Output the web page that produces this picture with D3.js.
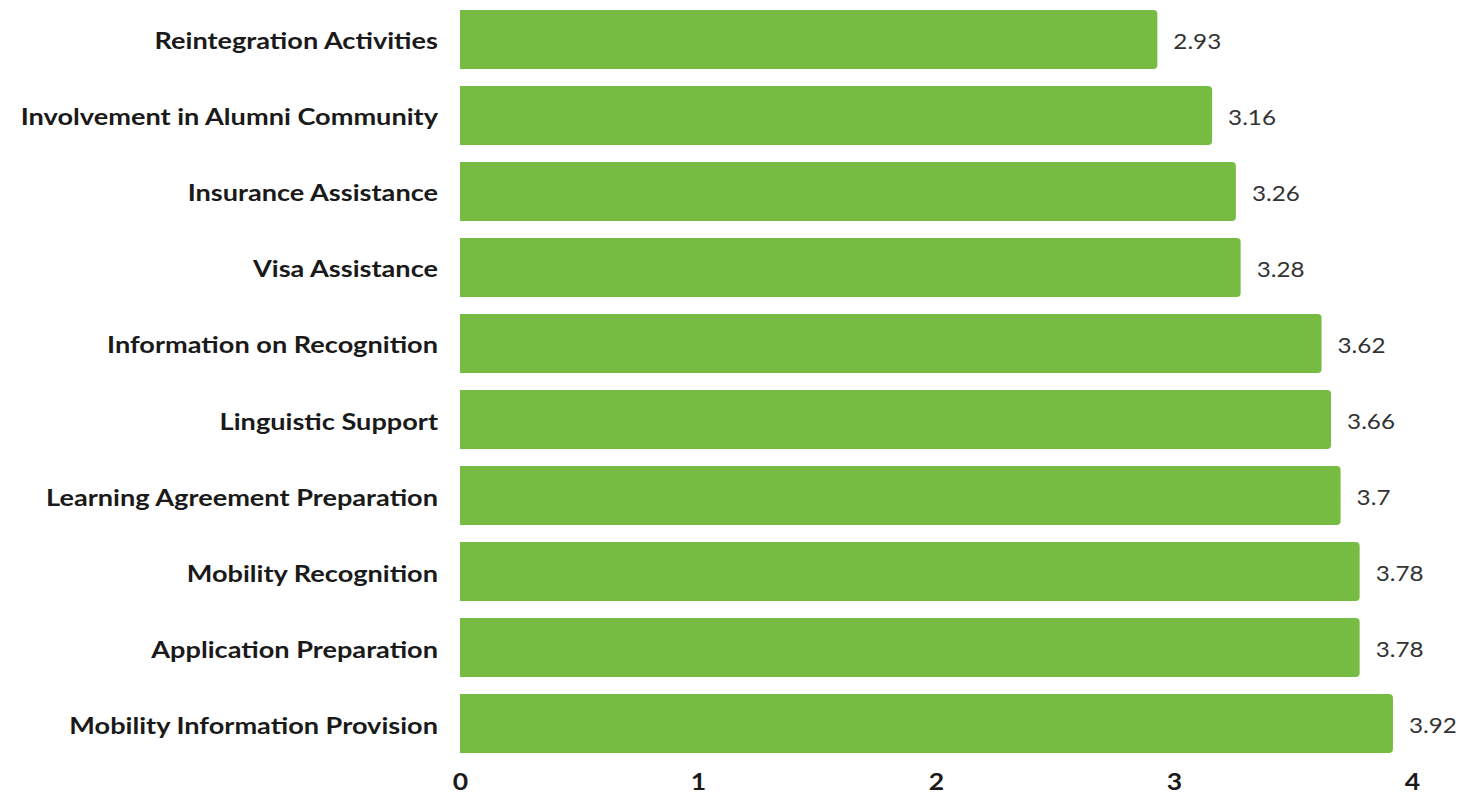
<!DOCTYPE html>
<html><head><meta charset="utf-8">
<script src="https://cdn.jsdelivr.net/npm/d3@7"></script>
<style>body{margin:0;background:#fff;}svg{display:block;}</style>
</head><body>
<svg id="c" width="1463" height="800"></svg>
<script>
const categories = ["Reintegration Activities","Involvement in Alumni Community","Insurance Assistance","Visa Assistance","Information on Recognition","Linguistic Support","Learning Agreement Preparation","Mobility Recognition","Application Preparation","Mobility Information Provision"];
const values = [2.93,3.16,3.26,3.28,3.62,3.66,3.7,3.78,3.78,3.92];
const valueLabels = ["2.93","3.16","3.26","3.28","3.62","3.66","3.7","3.78","3.78","3.92"];
const tickValues = [0,1,2,3,4];

const svg = d3.select("#c");
const x = d3.scaleLinear().domain([0,4]).range([460,1412]);
const y = d3.scaleBand().domain(categories).range([1.6,761.4]).paddingInner(0.224).paddingOuter(0.11);
const r = 4;
const bh = y.bandwidth();
const sx = 1.155;

svg.append("g").selectAll("path").data(categories).join("path")
  .attr("fill","#76bc43")
  .attr("d",(c,i)=>{
    const x0=x(0), x1=x(values[i]), y0=y(c), y1=y0+bh;
    return `M${x0},${y0}H${x1-r}Q${x1},${y0} ${x1},${y0+r}V${y1-r}Q${x1},${y1} ${x1-r},${y1}H${x0}Z`;
  });

svg.append("g").selectAll("text").data(categories).join("text")
  .attr("transform",c=>`translate(438,${y(c)+bh/2+10}) scale(${sx},1)`)
  .attr("text-anchor","end")
  .attr("font-family","Lato").attr("font-weight","bold").attr("font-size",23.5)
  .attr("fill","#1a1a1a").text(c=>c);

svg.append("g").selectAll("text").data(categories).join("text")
  .attr("transform",(c,i)=>`translate(${x(values[i])+16},${y(c)+bh/2+9.5}) scale(${sx},1)`)
  .attr("font-family","Lato").attr("font-size",21)
  .attr("fill","#333").text((c,i)=>valueLabels[i]);

const ax = d3.axisBottom(x).tickValues(tickValues).tickFormat(d3.format("d")).tickSize(0).tickPadding(0);
const g = svg.append("g").attr("transform","translate(0,790)").call(ax);
g.select(".domain").remove();
g.selectAll("text").attr("y",0).attr("dy",null).attr("transform",`scale(${sx},1)`)
  .attr("font-family","Lato").attr("font-weight","bold").attr("font-size",23).attr("fill","#1a1a1a");
</script>
</body></html>
